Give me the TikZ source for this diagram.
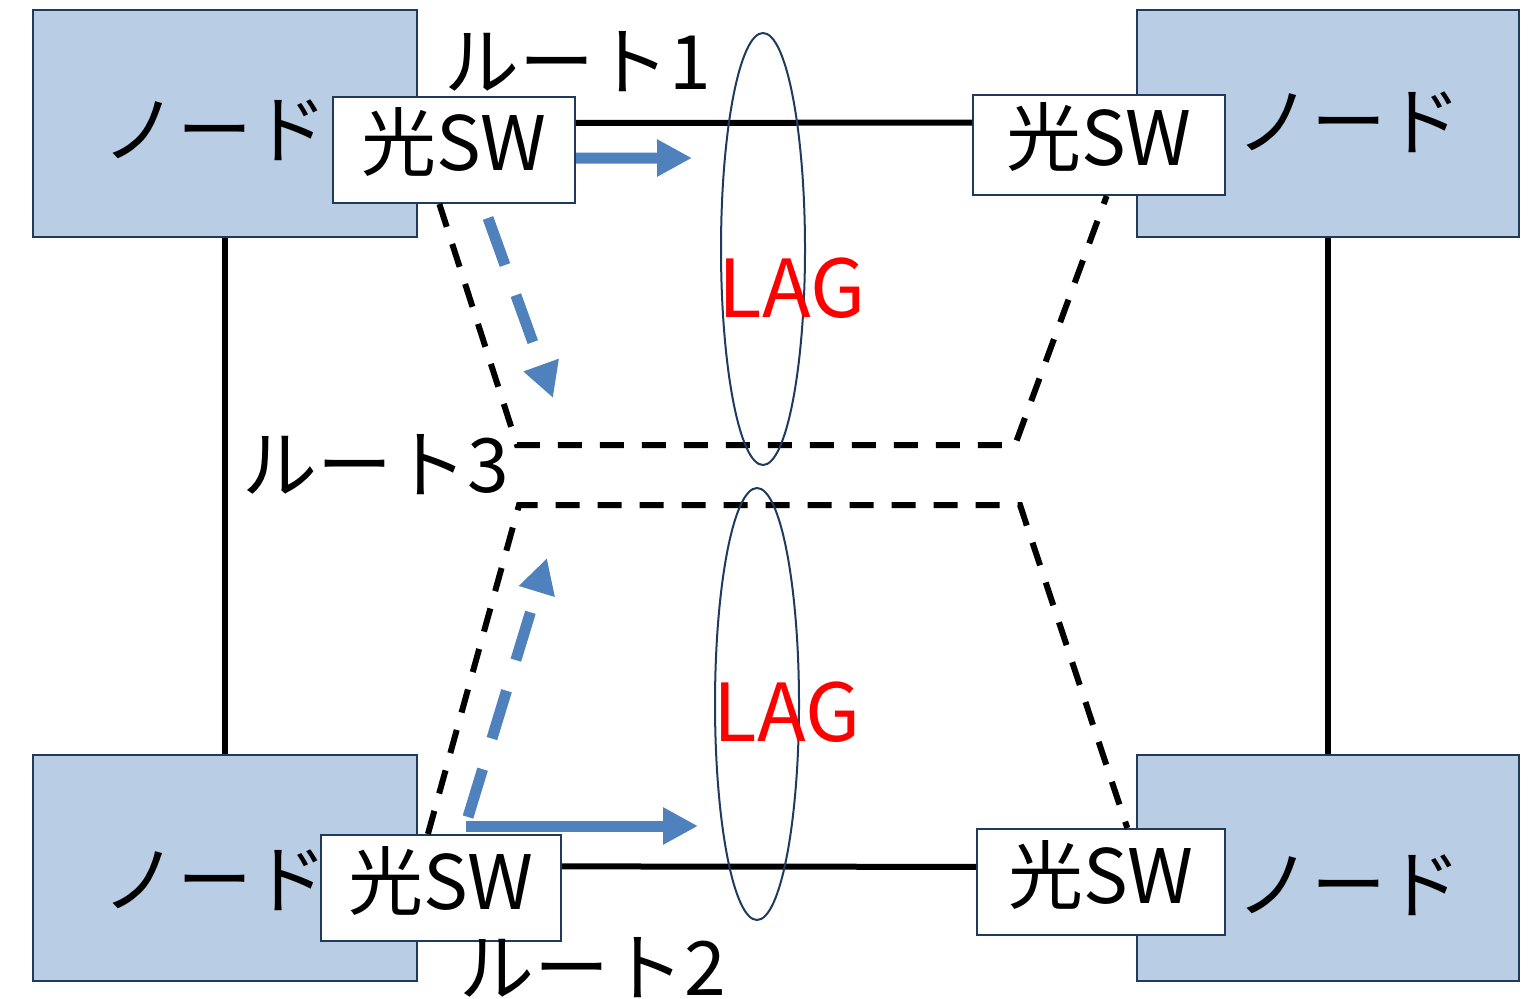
\documentclass[tikz,border=0pt]{standalone}
\usepackage{fontspec}
\setmainfont{Noto Sans CJK JP}
\usepackage{tikz}
\usetikzlibrary{shapes.geometric, arrows.meta, calc}
\definecolor{ndfill}{HTML}{B9CDE5}
\definecolor{ndline}{HTML}{1F3A5C}
\definecolor{flow}{HTML}{4F81BD}

\begin{document}
\begin{tikzpicture}[x=0.5pt,y=-0.5pt]
\tikzset{
  nd/.style={rectangle,draw=ndline,line width=1pt,fill=ndfill,minimum width=192pt,minimum height=113.5pt,inner sep=0pt},
  sw/.style={rectangle,draw=ndline,line width=1pt,fill=white,minimum height=53pt,inner sep=0pt,text height=25pt,text depth=4pt,font=\fontsize{37.5}{40}\selectfont},
  tx/.style={inner sep=0pt,font=\fontsize{37.5}{40}\selectfont},
  lag/.style={inner sep=0pt,text=red,font=\fontsize{40}{44}\selectfont},
  lg/.style={ellipse,draw=ndline,line width=1pt,minimum width=42pt,minimum height=216pt,inner sep=0pt},
  ln/.style={line width=3pt,draw=black},
  dl/.style={line width=3pt,draw=black,dash pattern=on 12pt off 9pt},
  ba/.style={-{Triangle[length=17.5pt,width=17.5pt]},line width=5.5pt,draw=flow},
  bd/.style={ba,dash pattern=on 25pt off 16pt}
}
\useasboundingbox (0,0) rectangle (1534,999);
% nodes
\node[nd] (ndTL) at (225,123.5) {};
\node[nd,minimum width=191pt] (ndTR) at (1328,123.5) {};
\node[nd,minimum height=113pt] (ndBL) at (225,868) {};
\node[nd,minimum width=191pt,minimum height=113pt] (ndBR) at (1328,868) {};
\node[tx] (lbTL) at (215,130) {ノード};
\node[tx] (lbTR) at (1349,122) {ノード};
\node[tx] (lbBL) at (215,880) {ノード};
\node[tx] (lbBR) at (1349,885) {ノード};
\draw[ln] (ndTL) -- (ndBL);
\draw[ln] (ndTR) -- (ndBR);
% optical switches
\node[sw,minimum width=121pt] (swTL) at (454,150) {光SW};
\node[sw,minimum width=126pt,minimum height=50pt] (swTR) at (1099,145) {光SW};
\node[sw,minimum width=120pt] (swBL) at (441,888) {光SW};
\node[sw,minimum width=124pt] (swBR) at (1101,882) {光SW};
\draw[ln] ($(swTL.north east)!0.25!(swTL.south east)$) -- ($(swTR.north west)!0.28!(swTR.south west)$);
\draw[ln] ($(swBL.north east)!0.3!(swBL.south east)$) -- ($(swBR.north west)!0.36!(swBR.south west)$);
% route 3
\coordinate (r3a) at (517,445);
\coordinate (r3b) at (1015,445);
\coordinate (r3c) at (519,505);
\coordinate (r3d) at (1020,505);
\draw[dl] ($(swTL.south west)!0.44!(swTL.south east)$) -- (r3a) -- (r3b) -- ($(swTR.south west)!0.53!(swTR.south east)$);
\draw[dl] ($(swBL.north west)!0.446!(swBL.north east)$) -- (r3c) -- (r3d) -- ($(swBR.north west)!0.605!(swBR.north east)$);
% flows
\coordinate (f1b) at (692,158);
\coordinate (f2a) at (488,218);
\coordinate (f2b) at (553,398);
\coordinate (f3a) at (468,817);
\coordinate (f3b) at (547,558);
\coordinate (f4a) at (466,826);
\coordinate (f4b) at (698,826);
\draw[ba] ($(swTL.north east)!0.575!(swTL.south east)$) -- (f1b);
\draw[bd] (f2a) -- (f2b);
\draw[bd] (f3a) -- (f3b);
\draw[ba] (f4a) -- (f4b);
% LAG
\node[lg] (lagA) at (763,249) {};
\node[lg] (lagB) at (757,704) {};
\node[lag] (lbLagA) at (792,288) {LAG};
\node[lag] (lbLagB) at (787,712) {LAG};
% routes
\node[tx] (rt1) at (578,62) {ルート1};
\node[tx] (rt3) at (376,465) {ルート3};
\node[tx] (rt2) at (593,968) {ルート2};
\end{tikzpicture}
\end{document}
